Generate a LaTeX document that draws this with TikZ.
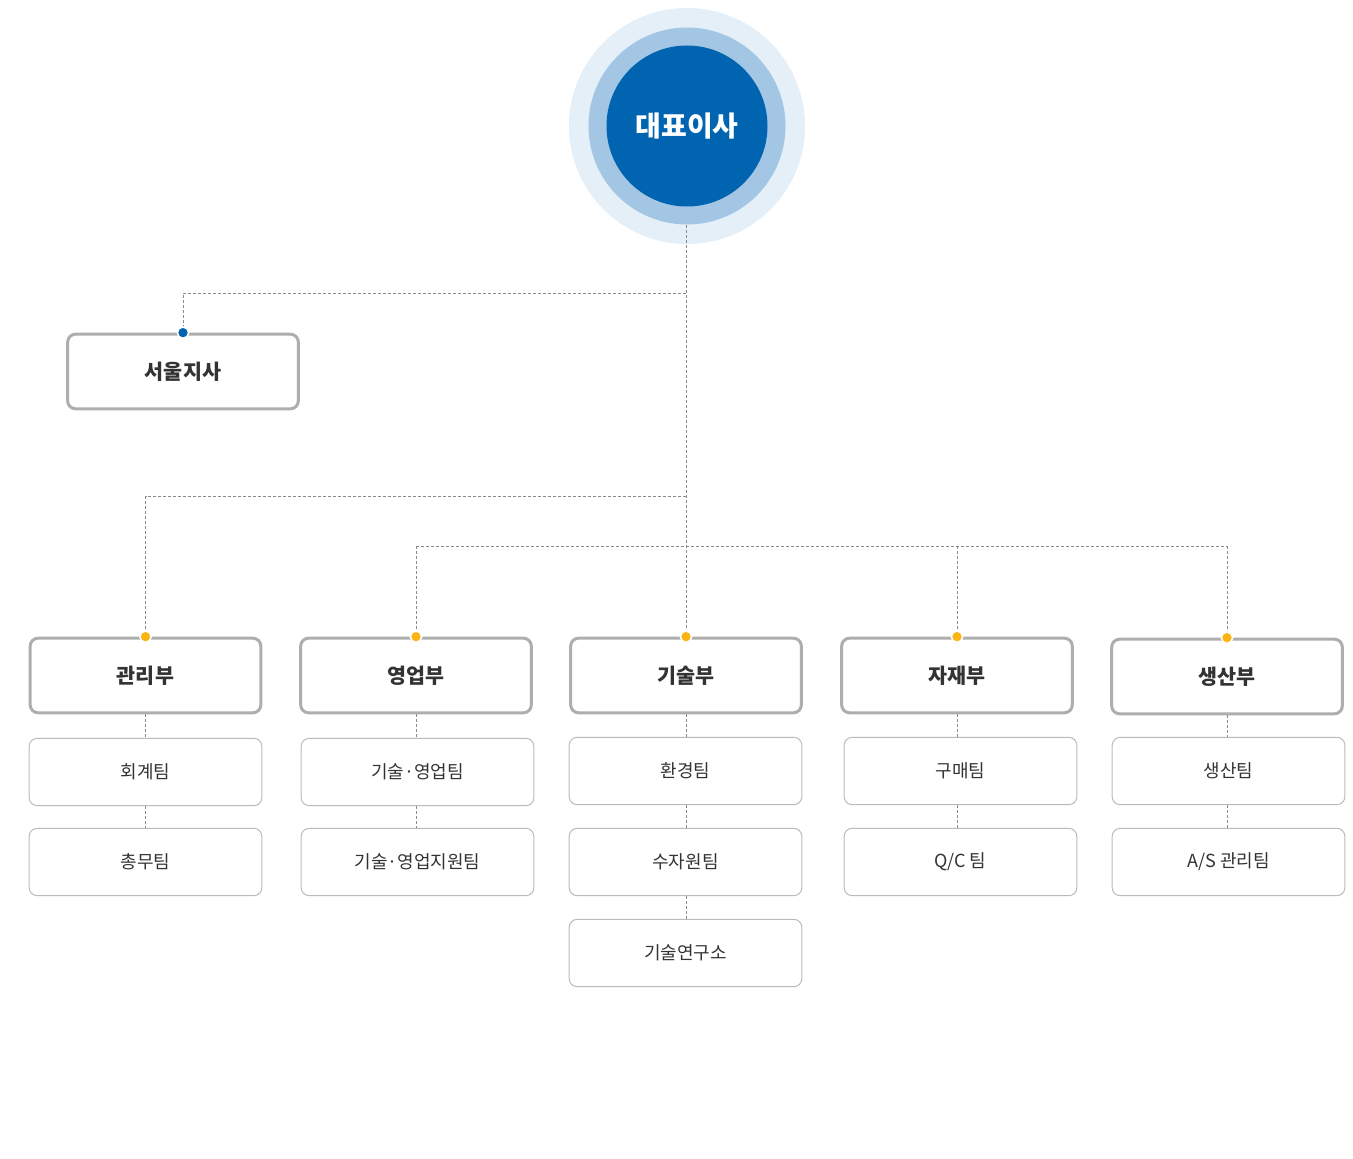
\documentclass[tikz,border=0pt]{standalone}
\usepackage{fontspec}
\setmainfont{Noto Sans CJK KR}
\definecolor{ringA}{HTML}{E4EFF8}
\definecolor{ringB}{HTML}{A3C6E4}
\definecolor{ringC}{HTML}{0064B1}
\definecolor{txt}{HTML}{333333}
\definecolor{bdr}{HTML}{AEAEAE}
\definecolor{bdrT}{HTML}{BBBBBB}
\definecolor{lnk}{HTML}{8A8A8A}
\definecolor{dotY}{HTML}{FBB414}
\tikzset{
  deptbox/.style={draw=bdr, line width=2.25pt, rounded corners=6pt, fill=white,
    minimum width=173pt, minimum height=56pt, inner sep=0pt, text=txt,
    font=\fontsize{15.5pt}{17pt}\selectfont\bfseries},
  teambox/.style={draw=bdrT, line width=0.75pt, rounded corners=6pt, fill=white,
    minimum width=174.5pt, minimum height=50.5pt, inner sep=0pt, text=txt,
    font=\fontsize{13.5pt}{15pt}\selectfont},
  link/.style={draw=lnk, line width=0.75pt, dash pattern=on 2.25pt off 1.5pt},
  ydot/.style={circle, fill=dotY, draw=white, line width=1.2pt, minimum size=8.5pt, inner sep=0pt},
  bdot/.style={circle, fill=ringC, draw=white, line width=1.2pt, minimum size=8.5pt, inner sep=0pt},
}
\begin{document}
\begin{tikzpicture}[x=0.75pt,y=-0.75pt]
\useasboundingbox[fill=white] (0,0) rectangle (1353,1159);
% CEO circles
\node[circle, fill=ringA, minimum size=177pt, inner sep=0pt] (ceoA) at (687,126) {};
\node[circle, fill=ringB, minimum size=147.75pt, inner sep=0pt] (ceoB) at (687,126) {};
\node[circle, fill=ringC, minimum size=120.75pt, inner sep=0pt, text=white,
  font=\fontsize{21pt}{24pt}\selectfont\bfseries] (ceo) at (687,126) {대표이사};
% branch
\node[deptbox] (seoul) at (183,371.5) {서울지사};
% departments
\node[deptbox] (d1) at (145.5,675.5) {관리부};
\node[deptbox] (d2) at (416,675.5) {영업부};
\node[deptbox] (d3) at (686,675.5) {기술부};
\node[deptbox] (d4) at (957,675.5) {자재부};
\node[deptbox] (d5) at (1227,676.5) {생산부};
% teams
\node[teambox] (t11) at (145.5,772) {회계팀};
\node[teambox] (t12) at (145.5,862) {총무팀};
\node[teambox] (t21) at (417.5,772) {기술·영업팀};
\node[teambox] (t22) at (417.5,862) {기술·영업지원팀};
\node[teambox] (t31) at (685.5,771) {환경팀};
\node[teambox] (t32) at (685.5,862) {수자원팀};
\node[teambox] (t33) at (685.5,953) {기술연구소};
\node[teambox] (t41) at (960.5,771) {구매팀};
\node[teambox] (t42) at (960.5,862) {Q/C 팀};
\node[teambox] (t51) at (1228.5,771) {생산팀};
\node[teambox] (t52) at (1228.5,862) {A/S 관리팀};
% junctions
\coordinate (j1) at (686,293);
\coordinate (j2) at (686,496);
\coordinate (j3) at (686,546);
% connectors
\path[link] (ceoB.south -| d3.north) -- (d3.north);
\path[link] (j1) -- (j1 -| seoul.north) -- (seoul.north);
\path[link] (j2) -- (j2 -| d1.north) -- (d1.north);
\path[link] (j3 -| d2.north) -- (j3 -| d5.north);
\path[link] (j3 -| d2.north) -- (d2.north);
\path[link] (j3 -| d4.north) -- (d4.north);
\path[link] (j3 -| d5.north) -- (d5.north);
\path[link] (d1.south) -- (d1.south |- t11.north);
\path[link] (t11.south -| d1.south) -- (d1.south |- t12.north);
\path[link] (d2.south) -- (d2.south |- t21.north);
\path[link] (t21.south -| d2.south) -- (d2.south |- t22.north);
\path[link] (d3.south) -- (d3.south |- t31.north);
\path[link] (t31.south -| d3.south) -- (d3.south |- t32.north);
\path[link] (t32.south -| d3.south) -- (d3.south |- t33.north);
\path[link] (d4.south) -- (d4.south |- t41.north);
\path[link] (t41.south -| d4.south) -- (d4.south |- t42.north);
\path[link] (d5.south) -- (d5.south |- t51.north);
\path[link] (t51.south -| d5.south) -- (d5.south |- t52.north);
% dots
\node[bdot] (sdot) at (seoul.north) {};
\node[ydot] (y1) at (d1.north) {};
\node[ydot] (y2) at (d2.north) {};
\node[ydot] (y3) at (d3.north) {};
\node[ydot] (y4) at (d4.north) {};
\node[ydot] (y5) at (d5.north) {};
\end{tikzpicture}
\end{document}
